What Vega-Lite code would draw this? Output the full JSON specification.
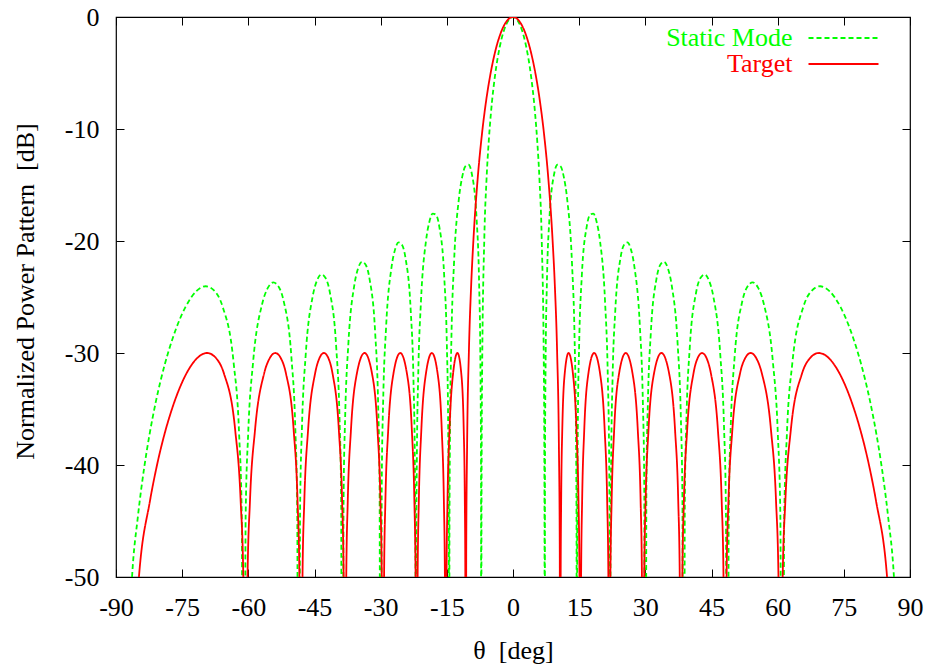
{
  "$schema": "https://vega.github.io/schema/vega-lite/v6.json",
  "width": 794,
  "height": 560,
  "autosize": {"type": "none"},
  "padding": {"left": 116, "top": 17, "right": 22, "bottom": 89},
  "background": "white",
  "config": {
    "view": {"stroke": "#000", "strokeWidth": 1.2},
    "font": "Times New Roman",
    "axis": {
      "labelFont": "Times New Roman",
      "labelFontSize": 26,
      "labelColor": "#000",
      "titleFont": "Times New Roman",
      "titleFontSize": 26,
      "titleFontWeight": "normal",
      "titleColor": "#000",
      "tickColor": "#000",
      "tickSize": -8,
      "tickWidth": 1,
      "domain": false,
      "grid": false,
      "labelPadding": 25,
      "labelFlush": false,
      "labelOverlap": false,
      "labelLimit": 400
    },
    "legend": {
      "orient": "none",
      "legendX": 692,
      "legendY": 8,
      "padding": 0,
      "symbolType": "M-7,0H7",
      "symbolSize": 100,
      "symbolStrokeWidth": 1.8,
      "labelFont": "Times New Roman",
      "labelFontSize": 26,
      "labelAlign": "right",
      "labelOffset": -64,
      "symbolOffset": 22.5,
      "labelLimit": 400,
      "rowPadding": 0
    }
  },
  "data": {
    "values": [
      {"series": "Static Mode", "theta": -90, "dB": -100},
      {"series": "Static Mode", "theta": -86.361, "dB": -50},
      {"series": "Static Mode", "theta": -85.037, "dB": -44.61},
      {"series": "Static Mode", "theta": -83.591, "dB": -40.19},
      {"series": "Static Mode", "theta": -82.415, "dB": -37.31},
      {"series": "Static Mode", "theta": -80.931, "dB": -34.28},
      {"series": "Static Mode", "theta": -78.887, "dB": -30.94},
      {"series": "Static Mode", "theta": -77.161, "dB": -28.7},
      {"series": "Static Mode", "theta": -75.638, "dB": -27.08},
      {"series": "Static Mode", "theta": -74.26, "dB": -25.91},
      {"series": "Static Mode", "theta": -71.805, "dB": -24.49},
      {"series": "Static Mode", "theta": -69.636, "dB": -24.04},
      {"series": "Static Mode", "theta": -67.668, "dB": -24.46},
      {"series": "Static Mode", "theta": -65.853, "dB": -25.84},
      {"series": "Static Mode", "theta": -63.348, "dB": -30.82},
      {"series": "Static Mode", "theta": -62.098, "dB": -37.17},
      {"series": "Static Mode", "theta": -61.494, "dB": -44.45},
      {"series": "Static Mode", "theta": -61.045, "dB": -100},
      {"series": "Static Mode", "theta": -60.604, "dB": -44.43},
      {"series": "Static Mode", "theta": -60.026, "dB": -37.12},
      {"series": "Static Mode", "theta": -58.898, "dB": -30.72},
      {"series": "Static Mode", "theta": -56.877, "dB": -25.64},
      {"series": "Static Mode", "theta": -55.585, "dB": -24.19},
      {"series": "Static Mode", "theta": -54.34, "dB": -23.7},
      {"series": "Static Mode", "theta": -53.13, "dB": -24.08},
      {"series": "Static Mode", "theta": -51.952, "dB": -25.43},
      {"series": "Static Mode", "theta": -50.242, "dB": -30.36},
      {"series": "Static Mode", "theta": -49.354, "dB": -36.67},
      {"series": "Static Mode", "theta": -48.916, "dB": -43.95},
      {"series": "Static Mode", "theta": -48.59, "dB": -100},
      {"series": "Static Mode", "theta": -48.266, "dB": -43.9},
      {"series": "Static Mode", "theta": -47.838, "dB": -36.58},
      {"series": "Static Mode", "theta": -46.991, "dB": -30.14},
      {"series": "Static Mode", "theta": -45.439, "dB": -25.0},
      {"series": "Static Mode", "theta": -44.427, "dB": -23.52},
      {"series": "Static Mode", "theta": -43.434, "dB": -22.99},
      {"series": "Static Mode", "theta": -42.454, "dB": -23.33},
      {"series": "Static Mode", "theta": -41.49, "dB": -24.64},
      {"series": "Static Mode", "theta": -40.072, "dB": -29.51},
      {"series": "Static Mode", "theta": -39.327, "dB": -35.79},
      {"series": "Static Mode", "theta": -38.958, "dB": -43.04},
      {"series": "Static Mode", "theta": -38.682, "dB": -100},
      {"series": "Static Mode", "theta": -38.408, "dB": -42.98},
      {"series": "Static Mode", "theta": -38.043, "dB": -35.63},
      {"series": "Static Mode", "theta": -37.319, "dB": -29.16},
      {"series": "Static Mode", "theta": -35.98, "dB": -23.96},
      {"series": "Static Mode", "theta": -35.1, "dB": -22.42},
      {"series": "Static Mode", "theta": -34.229, "dB": -21.85},
      {"series": "Static Mode", "theta": -33.367, "dB": -22.14},
      {"series": "Static Mode", "theta": -32.514, "dB": -23.4},
      {"series": "Static Mode", "theta": -31.248, "dB": -28.18},
      {"series": "Static Mode", "theta": -30.581, "dB": -34.42},
      {"series": "Static Mode", "theta": -30.248, "dB": -41.65},
      {"series": "Static Mode", "theta": -30, "dB": -100},
      {"series": "Static Mode", "theta": -29.752, "dB": -41.55},
      {"series": "Static Mode", "theta": -29.425, "dB": -34.18},
      {"series": "Static Mode", "theta": -28.767, "dB": -27.67},
      {"series": "Static Mode", "theta": -27.548, "dB": -22.37},
      {"series": "Static Mode", "theta": -26.744, "dB": -20.77},
      {"series": "Static Mode", "theta": -25.944, "dB": -20.13},
      {"series": "Static Mode", "theta": -25.153, "dB": -20.35},
      {"series": "Static Mode", "theta": -24.361, "dB": -21.54},
      {"series": "Static Mode", "theta": -23.189, "dB": -26.21},
      {"series": "Static Mode", "theta": -22.566, "dB": -32.38},
      {"series": "Static Mode", "theta": -22.256, "dB": -39.58},
      {"series": "Static Mode", "theta": -22.101, "dB": -49.06},
      {"series": "Static Mode", "theta": -22.024, "dB": -100},
      {"series": "Static Mode", "theta": -21.95, "dB": -49.01},
      {"series": "Static Mode", "theta": -21.796, "dB": -39.43},
      {"series": "Static Mode", "theta": -21.487, "dB": -32.03},
      {"series": "Static Mode", "theta": -20.87, "dB": -25.44},
      {"series": "Static Mode", "theta": -19.726, "dB": -20.0},
      {"series": "Static Mode", "theta": -18.966, "dB": -18.3},
      {"series": "Static Mode", "theta": -18.21, "dB": -17.55},
      {"series": "Static Mode", "theta": -17.458, "dB": -17.66},
      {"series": "Static Mode", "theta": -16.708, "dB": -18.72},
      {"series": "Static Mode", "theta": -15.59, "dB": -23.19},
      {"series": "Static Mode", "theta": -14.996, "dB": -29.25},
      {"series": "Static Mode", "theta": -14.7, "dB": -36.39},
      {"series": "Static Mode", "theta": -14.552, "dB": -45.83},
      {"series": "Static Mode", "theta": -14.478, "dB": -100},
      {"series": "Static Mode", "theta": -14.404, "dB": -45.76},
      {"series": "Static Mode", "theta": -14.256, "dB": -36.14},
      {"series": "Static Mode", "theta": -13.96, "dB": -28.68},
      {"series": "Static Mode", "theta": -13.371, "dB": -21.96},
      {"series": "Static Mode", "theta": -12.269, "dB": -16.23},
      {"series": "Static Mode", "theta": -11.537, "dB": -14.32},
      {"series": "Static Mode", "theta": -10.807, "dB": -13.34},
      {"series": "Static Mode", "theta": -10.079, "dB": -13.19},
      {"series": "Static Mode", "theta": -9.352, "dB": -13.97},
      {"series": "Static Mode", "theta": -8.265, "dB": -17.94},
      {"series": "Static Mode", "theta": -7.686, "dB": -23.7},
      {"series": "Static Mode", "theta": -7.397, "dB": -30.67},
      {"series": "Static Mode", "theta": -7.253, "dB": -40.03},
      {"series": "Static Mode", "theta": -7.181, "dB": -100},
      {"series": "Static Mode", "theta": -7.15, "dB": -47.3},
      {"series": "Static Mode", "theta": -7.1, "dB": -38.9},
      {"series": "Static Mode", "theta": -7, "dB": -31.8},
      {"series": "Static Mode", "theta": -6.5, "dB": -19.7},
      {"series": "Static Mode", "theta": -6, "dB": -14.49},
      {"series": "Static Mode", "theta": -5.5, "dB": -11.1},
      {"series": "Static Mode", "theta": -5, "dB": -8.57},
      {"series": "Static Mode", "theta": -4, "dB": -5.01},
      {"series": "Static Mode", "theta": -3, "dB": -2.66},
      {"series": "Static Mode", "theta": -2, "dB": -1.14},
      {"series": "Static Mode", "theta": -1, "dB": -0.28},
      {"series": "Static Mode", "theta": 0, "dB": 0},
      {"series": "Static Mode", "theta": 1, "dB": -0.28},
      {"series": "Static Mode", "theta": 2, "dB": -1.14},
      {"series": "Static Mode", "theta": 3, "dB": -2.66},
      {"series": "Static Mode", "theta": 4, "dB": -5.01},
      {"series": "Static Mode", "theta": 5, "dB": -8.57},
      {"series": "Static Mode", "theta": 5.5, "dB": -11.1},
      {"series": "Static Mode", "theta": 6, "dB": -14.49},
      {"series": "Static Mode", "theta": 6.5, "dB": -19.7},
      {"series": "Static Mode", "theta": 7, "dB": -31.8},
      {"series": "Static Mode", "theta": 7.1, "dB": -38.9},
      {"series": "Static Mode", "theta": 7.15, "dB": -47.3},
      {"series": "Static Mode", "theta": 7.181, "dB": -100},
      {"series": "Static Mode", "theta": 7.253, "dB": -40.03},
      {"series": "Static Mode", "theta": 7.397, "dB": -30.67},
      {"series": "Static Mode", "theta": 7.686, "dB": -23.7},
      {"series": "Static Mode", "theta": 8.265, "dB": -17.94},
      {"series": "Static Mode", "theta": 9.352, "dB": -13.97},
      {"series": "Static Mode", "theta": 10.079, "dB": -13.19},
      {"series": "Static Mode", "theta": 10.807, "dB": -13.34},
      {"series": "Static Mode", "theta": 11.537, "dB": -14.32},
      {"series": "Static Mode", "theta": 12.269, "dB": -16.23},
      {"series": "Static Mode", "theta": 13.371, "dB": -21.96},
      {"series": "Static Mode", "theta": 13.96, "dB": -28.68},
      {"series": "Static Mode", "theta": 14.256, "dB": -36.14},
      {"series": "Static Mode", "theta": 14.404, "dB": -45.76},
      {"series": "Static Mode", "theta": 14.478, "dB": -100},
      {"series": "Static Mode", "theta": 14.552, "dB": -45.83},
      {"series": "Static Mode", "theta": 14.7, "dB": -36.39},
      {"series": "Static Mode", "theta": 14.996, "dB": -29.25},
      {"series": "Static Mode", "theta": 15.59, "dB": -23.19},
      {"series": "Static Mode", "theta": 16.708, "dB": -18.72},
      {"series": "Static Mode", "theta": 17.458, "dB": -17.66},
      {"series": "Static Mode", "theta": 18.21, "dB": -17.55},
      {"series": "Static Mode", "theta": 18.966, "dB": -18.3},
      {"series": "Static Mode", "theta": 19.726, "dB": -20.0},
      {"series": "Static Mode", "theta": 20.87, "dB": -25.44},
      {"series": "Static Mode", "theta": 21.487, "dB": -32.03},
      {"series": "Static Mode", "theta": 21.796, "dB": -39.43},
      {"series": "Static Mode", "theta": 21.95, "dB": -49.01},
      {"series": "Static Mode", "theta": 22.024, "dB": -100},
      {"series": "Static Mode", "theta": 22.101, "dB": -49.06},
      {"series": "Static Mode", "theta": 22.256, "dB": -39.58},
      {"series": "Static Mode", "theta": 22.566, "dB": -32.38},
      {"series": "Static Mode", "theta": 23.189, "dB": -26.21},
      {"series": "Static Mode", "theta": 24.361, "dB": -21.54},
      {"series": "Static Mode", "theta": 25.153, "dB": -20.35},
      {"series": "Static Mode", "theta": 25.944, "dB": -20.13},
      {"series": "Static Mode", "theta": 26.744, "dB": -20.77},
      {"series": "Static Mode", "theta": 27.548, "dB": -22.37},
      {"series": "Static Mode", "theta": 28.767, "dB": -27.67},
      {"series": "Static Mode", "theta": 29.425, "dB": -34.18},
      {"series": "Static Mode", "theta": 29.752, "dB": -41.55},
      {"series": "Static Mode", "theta": 30, "dB": -100},
      {"series": "Static Mode", "theta": 30.248, "dB": -41.65},
      {"series": "Static Mode", "theta": 30.581, "dB": -34.42},
      {"series": "Static Mode", "theta": 31.248, "dB": -28.18},
      {"series": "Static Mode", "theta": 32.514, "dB": -23.4},
      {"series": "Static Mode", "theta": 33.367, "dB": -22.14},
      {"series": "Static Mode", "theta": 34.229, "dB": -21.85},
      {"series": "Static Mode", "theta": 35.1, "dB": -22.42},
      {"series": "Static Mode", "theta": 35.98, "dB": -23.96},
      {"series": "Static Mode", "theta": 37.319, "dB": -29.16},
      {"series": "Static Mode", "theta": 38.043, "dB": -35.63},
      {"series": "Static Mode", "theta": 38.408, "dB": -42.98},
      {"series": "Static Mode", "theta": 38.682, "dB": -100},
      {"series": "Static Mode", "theta": 38.958, "dB": -43.04},
      {"series": "Static Mode", "theta": 39.327, "dB": -35.79},
      {"series": "Static Mode", "theta": 40.072, "dB": -29.51},
      {"series": "Static Mode", "theta": 41.49, "dB": -24.64},
      {"series": "Static Mode", "theta": 42.454, "dB": -23.33},
      {"series": "Static Mode", "theta": 43.434, "dB": -22.99},
      {"series": "Static Mode", "theta": 44.427, "dB": -23.52},
      {"series": "Static Mode", "theta": 45.439, "dB": -25.0},
      {"series": "Static Mode", "theta": 46.991, "dB": -30.14},
      {"series": "Static Mode", "theta": 47.838, "dB": -36.58},
      {"series": "Static Mode", "theta": 48.266, "dB": -43.9},
      {"series": "Static Mode", "theta": 48.59, "dB": -100},
      {"series": "Static Mode", "theta": 48.916, "dB": -43.95},
      {"series": "Static Mode", "theta": 49.354, "dB": -36.67},
      {"series": "Static Mode", "theta": 50.242, "dB": -30.36},
      {"series": "Static Mode", "theta": 51.952, "dB": -25.43},
      {"series": "Static Mode", "theta": 53.13, "dB": -24.08},
      {"series": "Static Mode", "theta": 54.34, "dB": -23.7},
      {"series": "Static Mode", "theta": 55.585, "dB": -24.19},
      {"series": "Static Mode", "theta": 56.877, "dB": -25.64},
      {"series": "Static Mode", "theta": 58.898, "dB": -30.72},
      {"series": "Static Mode", "theta": 60.026, "dB": -37.12},
      {"series": "Static Mode", "theta": 60.604, "dB": -44.43},
      {"series": "Static Mode", "theta": 61.045, "dB": -100},
      {"series": "Static Mode", "theta": 61.494, "dB": -44.45},
      {"series": "Static Mode", "theta": 62.098, "dB": -37.17},
      {"series": "Static Mode", "theta": 63.348, "dB": -30.82},
      {"series": "Static Mode", "theta": 65.853, "dB": -25.84},
      {"series": "Static Mode", "theta": 67.668, "dB": -24.46},
      {"series": "Static Mode", "theta": 69.636, "dB": -24.04},
      {"series": "Static Mode", "theta": 71.805, "dB": -24.49},
      {"series": "Static Mode", "theta": 74.26, "dB": -25.91},
      {"series": "Static Mode", "theta": 75.638, "dB": -27.08},
      {"series": "Static Mode", "theta": 77.161, "dB": -28.7},
      {"series": "Static Mode", "theta": 78.887, "dB": -30.94},
      {"series": "Static Mode", "theta": 80.931, "dB": -34.28},
      {"series": "Static Mode", "theta": 82.415, "dB": -37.31},
      {"series": "Static Mode", "theta": 83.591, "dB": -40.19},
      {"series": "Static Mode", "theta": 85.037, "dB": -44.61},
      {"series": "Static Mode", "theta": 86.361, "dB": -50},
      {"series": "Static Mode", "theta": 90, "dB": -100},

      {"series": "Target", "theta": -90, "dB": -100},
      {"series": "Target", "theta": -84.8, "dB": -50},
      {"series": "Target", "theta": -82.31, "dB": -43.23},
      {"series": "Target", "theta": -80.81, "dB": -40.2},
      {"series": "Target", "theta": -78.74, "dB": -36.86},
      {"series": "Target", "theta": -76.988, "dB": -34.62},
      {"series": "Target", "theta": -74.046, "dB": -31.84},
      {"series": "Target", "theta": -71.559, "dB": -30.44},
      {"series": "Target", "theta": -69.35, "dB": -30},
      {"series": "Target", "theta": -67.365, "dB": -30.44},
      {"series": "Target", "theta": -65.518, "dB": -31.84},
      {"series": "Target", "theta": -62.986, "dB": -36.86},
      {"series": "Target", "theta": -61.74, "dB": -43.23},
      {"series": "Target", "theta": -61.14, "dB": -50},
      {"series": "Target", "theta": -60.64, "dB": -100},
      {"series": "Target", "theta": -60.18, "dB": -50},
      {"series": "Target", "theta": -59.63, "dB": -43.23},
      {"series": "Target", "theta": -58.48, "dB": -36.86},
      {"series": "Target", "theta": -56.43, "dB": -31.84},
      {"series": "Target", "theta": -55.118, "dB": -30.44},
      {"series": "Target", "theta": -53.87, "dB": -30},
      {"series": "Target", "theta": -52.661, "dB": -30.44},
      {"series": "Target", "theta": -51.46, "dB": -31.84},
      {"series": "Target", "theta": -49.727, "dB": -36.86},
      {"series": "Target", "theta": -48.84, "dB": -43.23},
      {"series": "Target", "theta": -48.42, "dB": -50},
      {"series": "Target", "theta": -48.06, "dB": -100},
      {"series": "Target", "theta": -47.72, "dB": -50},
      {"series": "Target", "theta": -47.31, "dB": -43.23},
      {"series": "Target", "theta": -46.452, "dB": -36.86},
      {"series": "Target", "theta": -44.873, "dB": -31.84},
      {"series": "Target", "theta": -43.86, "dB": -30.44},
      {"series": "Target", "theta": -42.86, "dB": -30},
      {"series": "Target", "theta": -41.876, "dB": -30.44},
      {"series": "Target", "theta": -40.907, "dB": -31.84},
      {"series": "Target", "theta": -39.483, "dB": -36.86},
      {"series": "Target", "theta": -38.74, "dB": -43.23},
      {"series": "Target", "theta": -38.39, "dB": -50},
      {"series": "Target", "theta": -38.09, "dB": -100},
      {"series": "Target", "theta": -37.8, "dB": -50},
      {"series": "Target", "theta": -37.46, "dB": -43.23},
      {"series": "Target", "theta": -36.735, "dB": -36.86},
      {"series": "Target", "theta": -35.4, "dB": -31.84},
      {"series": "Target", "theta": -33.65, "dB": -30},
      {"series": "Target", "theta": -31.96, "dB": -31.84},
      {"series": "Target", "theta": -30.716, "dB": -36.86},
      {"series": "Target", "theta": -30.06, "dB": -43.23},
      {"series": "Target", "theta": -29.75, "dB": -50},
      {"series": "Target", "theta": -29.49, "dB": -100},
      {"series": "Target", "theta": -29.23, "dB": -50},
      {"series": "Target", "theta": -28.93, "dB": -43.23},
      {"series": "Target", "theta": -28.287, "dB": -36.86},
      {"series": "Target", "theta": -27.103, "dB": -31.84},
      {"series": "Target", "theta": -25.56, "dB": -30},
      {"series": "Target", "theta": -24.043, "dB": -31.84},
      {"series": "Target", "theta": -22.935, "dB": -36.86},
      {"series": "Target", "theta": -22.36, "dB": -43.23},
      {"series": "Target", "theta": -22.08, "dB": -50},
      {"series": "Target", "theta": -21.85, "dB": -100},
      {"series": "Target", "theta": -21.62, "dB": -50},
      {"series": "Target", "theta": -21.35, "dB": -43.23},
      {"series": "Target", "theta": -20.78, "dB": -36.86},
      {"series": "Target", "theta": -19.74, "dB": -31.84},
      {"series": "Target", "theta": -18.39, "dB": -30},
      {"series": "Target", "theta": -17.088, "dB": -31.84},
      {"series": "Target", "theta": -16.152, "dB": -36.86},
      {"series": "Target", "theta": -15.67, "dB": -43.23},
      {"series": "Target", "theta": -15.44, "dB": -50},
      {"series": "Target", "theta": -15.25, "dB": -100},
      {"series": "Target", "theta": -15.07, "dB": -50},
      {"series": "Target", "theta": -14.85, "dB": -43.23},
      {"series": "Target", "theta": -14.394, "dB": -36.86},
      {"series": "Target", "theta": -13.584, "dB": -31.84},
      {"series": "Target", "theta": -12.59, "dB": -30},
      {"series": "Target", "theta": -11.724, "dB": -31.84},
      {"series": "Target", "theta": -11.17, "dB": -36.86},
      {"series": "Target", "theta": -10.92, "dB": -43.23},
      {"series": "Target", "theta": -10.81, "dB": -50},
      {"series": "Target", "theta": -10.71, "dB": -100},
      {"series": "Target", "theta": -10.6, "dB": -47.6},
      {"series": "Target", "theta": -10.4, "dB": -38.1},
      {"series": "Target", "theta": -10, "dB": -29.9},
      {"series": "Target", "theta": -9.5, "dB": -24.1},
      {"series": "Target", "theta": -9, "dB": -20.1},
      {"series": "Target", "theta": -8, "dB": -14.39},
      {"series": "Target", "theta": -7, "dB": -10.32},
      {"series": "Target", "theta": -6, "dB": -7.23},
      {"series": "Target", "theta": -5, "dB": -4.86},
      {"series": "Target", "theta": -4, "dB": -3.03},
      {"series": "Target", "theta": -3, "dB": -1.67},
      {"series": "Target", "theta": -2, "dB": -0.73},
      {"series": "Target", "theta": -1, "dB": -0.18},
      {"series": "Target", "theta": 0, "dB": 0},
      {"series": "Target", "theta": 1, "dB": -0.18},
      {"series": "Target", "theta": 2, "dB": -0.73},
      {"series": "Target", "theta": 3, "dB": -1.67},
      {"series": "Target", "theta": 4, "dB": -3.03},
      {"series": "Target", "theta": 5, "dB": -4.86},
      {"series": "Target", "theta": 6, "dB": -7.23},
      {"series": "Target", "theta": 7, "dB": -10.32},
      {"series": "Target", "theta": 8, "dB": -14.39},
      {"series": "Target", "theta": 9, "dB": -20.1},
      {"series": "Target", "theta": 9.5, "dB": -24.1},
      {"series": "Target", "theta": 10, "dB": -29.9},
      {"series": "Target", "theta": 10.4, "dB": -38.1},
      {"series": "Target", "theta": 10.6, "dB": -47.6},
      {"series": "Target", "theta": 10.71, "dB": -100},
      {"series": "Target", "theta": 10.81, "dB": -50},
      {"series": "Target", "theta": 10.92, "dB": -43.23},
      {"series": "Target", "theta": 11.17, "dB": -36.86},
      {"series": "Target", "theta": 11.724, "dB": -31.84},
      {"series": "Target", "theta": 12.59, "dB": -30},
      {"series": "Target", "theta": 13.584, "dB": -31.84},
      {"series": "Target", "theta": 14.394, "dB": -36.86},
      {"series": "Target", "theta": 14.85, "dB": -43.23},
      {"series": "Target", "theta": 15.07, "dB": -50},
      {"series": "Target", "theta": 15.25, "dB": -100},
      {"series": "Target", "theta": 15.44, "dB": -50},
      {"series": "Target", "theta": 15.67, "dB": -43.23},
      {"series": "Target", "theta": 16.152, "dB": -36.86},
      {"series": "Target", "theta": 17.088, "dB": -31.84},
      {"series": "Target", "theta": 18.39, "dB": -30},
      {"series": "Target", "theta": 19.74, "dB": -31.84},
      {"series": "Target", "theta": 20.78, "dB": -36.86},
      {"series": "Target", "theta": 21.35, "dB": -43.23},
      {"series": "Target", "theta": 21.62, "dB": -50},
      {"series": "Target", "theta": 21.85, "dB": -100},
      {"series": "Target", "theta": 22.08, "dB": -50},
      {"series": "Target", "theta": 22.36, "dB": -43.23},
      {"series": "Target", "theta": 22.935, "dB": -36.86},
      {"series": "Target", "theta": 24.043, "dB": -31.84},
      {"series": "Target", "theta": 25.56, "dB": -30},
      {"series": "Target", "theta": 27.103, "dB": -31.84},
      {"series": "Target", "theta": 28.287, "dB": -36.86},
      {"series": "Target", "theta": 28.93, "dB": -43.23},
      {"series": "Target", "theta": 29.23, "dB": -50},
      {"series": "Target", "theta": 29.49, "dB": -100},
      {"series": "Target", "theta": 29.75, "dB": -50},
      {"series": "Target", "theta": 30.06, "dB": -43.23},
      {"series": "Target", "theta": 30.716, "dB": -36.86},
      {"series": "Target", "theta": 31.96, "dB": -31.84},
      {"series": "Target", "theta": 33.65, "dB": -30},
      {"series": "Target", "theta": 35.4, "dB": -31.84},
      {"series": "Target", "theta": 36.735, "dB": -36.86},
      {"series": "Target", "theta": 37.46, "dB": -43.23},
      {"series": "Target", "theta": 37.8, "dB": -50},
      {"series": "Target", "theta": 38.09, "dB": -100},
      {"series": "Target", "theta": 38.39, "dB": -50},
      {"series": "Target", "theta": 38.74, "dB": -43.23},
      {"series": "Target", "theta": 39.483, "dB": -36.86},
      {"series": "Target", "theta": 40.907, "dB": -31.84},
      {"series": "Target", "theta": 41.876, "dB": -30.44},
      {"series": "Target", "theta": 42.86, "dB": -30},
      {"series": "Target", "theta": 43.86, "dB": -30.44},
      {"series": "Target", "theta": 44.873, "dB": -31.84},
      {"series": "Target", "theta": 46.452, "dB": -36.86},
      {"series": "Target", "theta": 47.31, "dB": -43.23},
      {"series": "Target", "theta": 47.72, "dB": -50},
      {"series": "Target", "theta": 48.06, "dB": -100},
      {"series": "Target", "theta": 48.42, "dB": -50},
      {"series": "Target", "theta": 48.84, "dB": -43.23},
      {"series": "Target", "theta": 49.727, "dB": -36.86},
      {"series": "Target", "theta": 51.46, "dB": -31.84},
      {"series": "Target", "theta": 52.661, "dB": -30.44},
      {"series": "Target", "theta": 53.87, "dB": -30},
      {"series": "Target", "theta": 55.118, "dB": -30.44},
      {"series": "Target", "theta": 56.43, "dB": -31.84},
      {"series": "Target", "theta": 58.48, "dB": -36.86},
      {"series": "Target", "theta": 59.63, "dB": -43.23},
      {"series": "Target", "theta": 60.18, "dB": -50},
      {"series": "Target", "theta": 60.64, "dB": -100},
      {"series": "Target", "theta": 61.14, "dB": -50},
      {"series": "Target", "theta": 61.74, "dB": -43.23},
      {"series": "Target", "theta": 62.986, "dB": -36.86},
      {"series": "Target", "theta": 65.518, "dB": -31.84},
      {"series": "Target", "theta": 67.365, "dB": -30.44},
      {"series": "Target", "theta": 69.35, "dB": -30},
      {"series": "Target", "theta": 71.559, "dB": -30.44},
      {"series": "Target", "theta": 74.046, "dB": -31.84},
      {"series": "Target", "theta": 76.988, "dB": -34.62},
      {"series": "Target", "theta": 78.74, "dB": -36.86},
      {"series": "Target", "theta": 80.81, "dB": -40.2},
      {"series": "Target", "theta": 82.31, "dB": -43.23},
      {"series": "Target", "theta": 84.8, "dB": -50},
      {"series": "Target", "theta": 90, "dB": -100}
    ]
  },
  "layer": [
    {
      "mark": {"type": "line", "clip": true, "interpolate": "monotone", "strokeWidth": 1.8},
      "encoding": {
        "x": {
          "field": "theta", "type": "quantitative",
          "scale": {"domain": [-90, 90], "nice": false, "zero": false},
          "axis": {"orient": "bottom", "values": [-90, -75, -60, -45, -30, -15, 0, 15, 30, 45, 60, 75, 90], "labelExpr": "'' + datum.value", "labelFont": "Times New Roman", "labelFontSize": 26, "titleFont": "Times New Roman", "titleFontSize": 26, "title": "θ \u00a0[deg]", "titleBaseline": "alphabetic", "titleY": 81}
        },
        "y": {
          "field": "dB", "type": "quantitative",
          "scale": {"domain": [-50, 0], "nice": false, "zero": false},
          "axis": {"orient": "left", "values": [-50, -40, -30, -20, -10, 0], "labelExpr": "'' + datum.value", "labelFont": "Times New Roman", "labelFontSize": 26, "titleFont": "Times New Roman", "titleFontSize": 26, "title": "Normalized Power Pattern \u00a0[dB]", "titleAngle": -90, "titleBaseline": "alphabetic", "titleAlign": "center", "titleX": -83, "titleY": 274}
        },
        "color": {
          "field": "series", "type": "nominal",
          "scale": {"domain": ["Static Mode", "Target"], "range": ["#00ff00", "#ff0000"]},
          "legend": {"title": null, "encode": {"labels": {"update": {"fill": {"signal": "datum.value === 'Target' ? '#ff0000' : '#00ff00'"}}}}}
        },
        "strokeDash": {
          "field": "series", "type": "nominal",
          "scale": {"domain": ["Static Mode", "Target"], "range": [[5, 3], [1, 0]]},
          "legend": {"title": null}
        }
      }
    },
    {
      "mark": {"type": "line", "opacity": 0},
      "encoding": {
        "x": {"field": "theta", "type": "quantitative", "axis": {"orient": "top", "values": [-90, -75, -60, -45, -30, -15, 0, 15, 30, 45, 60, 75, 90], "labels": false, "title": null}},
        "y": {"field": "dB", "type": "quantitative", "axis": {"orient": "right", "values": [-50, -40, -30, -20, -10, 0], "labels": false, "title": null}}
      }
    }
  ],
  "resolve": {"axis": {"x": "independent", "y": "independent"}}
}
